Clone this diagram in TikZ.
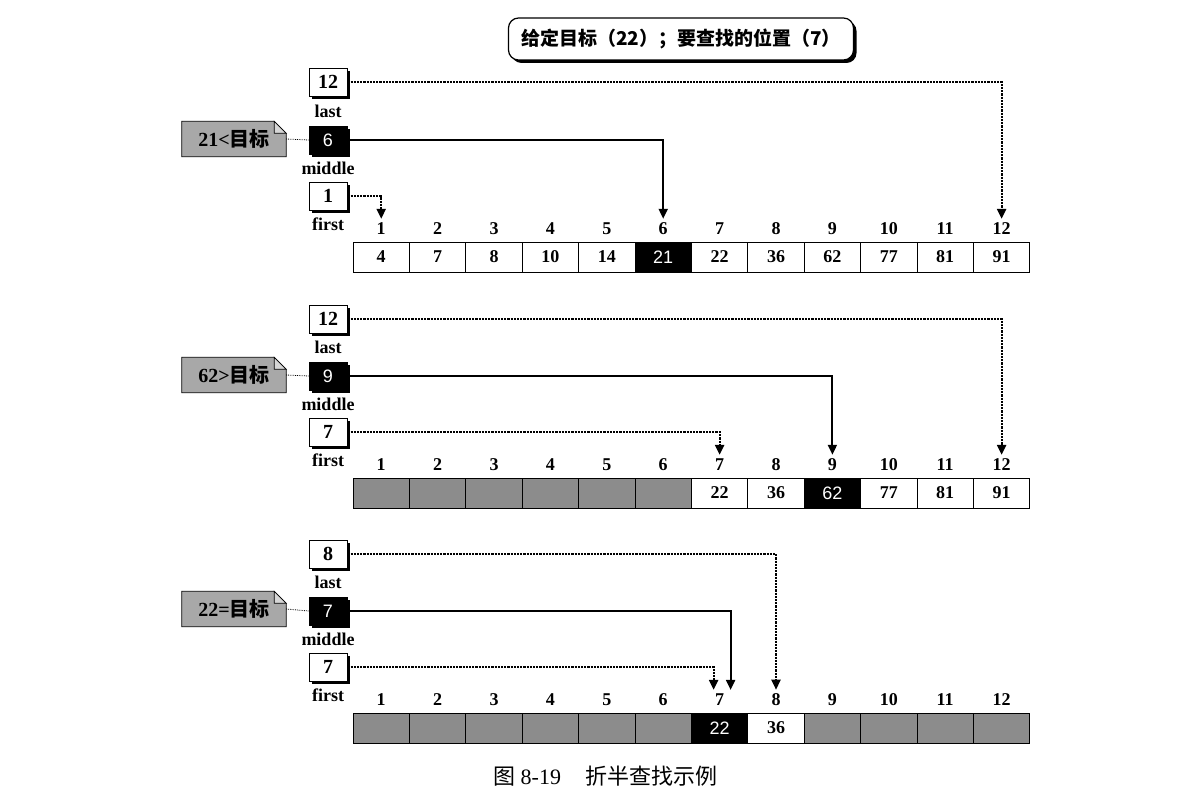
\documentclass[tikz,border=0pt]{standalone}
\usepackage{fontspec}
\setmainfont{Liberation Serif}
\newfontfamily\cjk{Noto Sans CJK SC}
\newfontfamily\sansf{Liberation Sans}
\usetikzlibrary{arrows.meta,shadows,backgrounds}
\definecolor{cellgray}{gray}{0.55}
\definecolor{notegray}{gray}{0.66}
\definecolor{notelight}{gray}{0.84}
\newcommand\cellfnt{\fontsize{18}{18}\selectfont\bfseries}
\newcommand\idxfnt{\fontsize{18}{18}\selectfont\bfseries}
\newcommand\hitfnt{\fontsize{18}{18}\selectfont\sansf}
\newcommand\ptrfnt{\fontsize{20}{20}\selectfont\bfseries}
\tikzset{
  cell/.style={draw,thick,minimum width=56.4pt,minimum height=30pt,inner sep=0pt,font=\cellfnt},
  emptycell/.style={cell,fill=cellgray},
  hitcell/.style={cell,fill=black,text=white,font=\hitfnt},
  idx/.style={inner sep=0pt,font=\idxfnt},
  ptr/.style={draw,thick,fill=white,minimum width=38pt,minimum height=28pt,inner sep=0pt,font=\ptrfnt,
    drop shadow={shadow xshift=3pt,shadow yshift=-3pt,opacity=1,fill=black}},
  midptr/.style={ptr,fill=black,text=white,font=\hitfnt},
  ptrname/.style={inner sep=0pt,font=\fontsize{18}{18}\selectfont\bfseries},
  note/.style={inner sep=0pt,minimum width=104pt,minimum height=35pt,font=\ptrfnt},
  notefold/.style={thick,fill=notelight},
  dotarrow/.style={densely dotted,line width=2.2pt,-{Triangle[length=10pt,width=9pt]}},
  solidarrow/.style={line width=2pt,-{Triangle[length=10pt,width=9pt]}},
  goalbox/.style={draw,very thick,rounded corners=10pt,fill=white,minimum width=345pt,minimum height=42pt,
    font=\fontsize{19}{19}\selectfont\cjk\bfseries,
    drop shadow={shadow xshift=3pt,shadow yshift=-3pt,opacity=1,fill=black}}
}
\begin{document}
\begin{tikzpicture}[x=1pt,y=-1pt]
  \useasboundingbox (0,0) rectangle (1194,808);
  \node[goalbox] (goal) at (681,39) {给定目标（22）；要查找的位置（7）};

  % first round
  \foreach \v/\s [count=\i] in {4/cell,7/cell,8/cell,10/cell,14/cell,21/hitcell,22/cell,36/cell,62/cell,77/cell,81/cell,91/cell}{
    \node[\s] (c1-\i) at ({353+(\i-0.5)*56.4},257) {\v};
    \node[idx] (i1-\i) at ({353+(\i-0.5)*56.4},229) {\i};
  }
  \node[ptr] (l1) at (328,82) {12};
  \node[ptrname] (ln1) at (328,111) {last};
  \node[midptr] (m1) at (328,140) {6};
  \node[ptrname] (mn1) at (328,168) {middle};
  \node[ptr] (f1) at (328,196) {1};
  \node[ptrname] (fn1) at (328,224) {first};
  \node[note] (n1) at (234,139) {21<{\cjk\bfseries 目标}};
  \begin{scope}[on background layer]
    \draw[thick,fill=notegray] (n1.south west) -- (n1.north west) -- ([xshift=-12pt]n1.north east)
      -- ([yshift=-12pt]n1.north east) -- (n1.south east) -- cycle;
  \end{scope}
  \draw[notefold] ([xshift=-12pt]n1.north east) -- ([xshift=-12pt,yshift=-12pt]n1.north east) -- ([yshift=-12pt]n1.north east) -- cycle;
  \draw[densely dotted,thick] (n1.east) -- (m1.west);
  \draw[dotarrow] (l1.east) -| ([yshift=4pt]i1-12.north);
  \draw[solidarrow] (m1.east) -| ([yshift=4pt]i1-6.north);
  \draw[dotarrow] (f1.east) -| ([yshift=4pt]i1-1.north);

  % second round
  \foreach \v/\s [count=\i] in {{}/emptycell,{}/emptycell,{}/emptycell,{}/emptycell,{}/emptycell,{}/emptycell,22/cell,36/cell,62/hitcell,77/cell,81/cell,91/cell}{
    \node[\s] (c2-\i) at ({353+(\i-0.5)*56.4},493) {\v};
    \node[idx] (i2-\i) at ({353+(\i-0.5)*56.4},465) {\i};
  }
  \node[ptr] (l2) at (328,319) {12};
  \node[ptrname] (ln2) at (328,347) {last};
  \node[midptr] (m2) at (328,376) {9};
  \node[ptrname] (mn2) at (328,404) {middle};
  \node[ptr] (f2) at (328,432) {7};
  \node[ptrname] (fn2) at (328,460) {first};
  \node[note] (n2) at (234,375) {62>{\cjk\bfseries 目标}};
  \begin{scope}[on background layer]
    \draw[thick,fill=notegray] (n2.south west) -- (n2.north west) -- ([xshift=-12pt]n2.north east)
      -- ([yshift=-12pt]n2.north east) -- (n2.south east) -- cycle;
  \end{scope}
  \draw[notefold] ([xshift=-12pt]n2.north east) -- ([xshift=-12pt,yshift=-12pt]n2.north east) -- ([yshift=-12pt]n2.north east) -- cycle;
  \draw[densely dotted,thick] (n2.east) -- (m2.west);
  \draw[dotarrow] (l2.east) -| ([yshift=4pt]i2-12.north);
  \draw[solidarrow] (m2.east) -| ([yshift=4pt]i2-9.north);
  \draw[dotarrow] (f2.east) -| ([yshift=4pt]i2-7.north);

  % third round
  \foreach \v/\s [count=\i] in {{}/emptycell,{}/emptycell,{}/emptycell,{}/emptycell,{}/emptycell,{}/emptycell,22/hitcell,36/cell,{}/emptycell,{}/emptycell,{}/emptycell,{}/emptycell}{
    \node[\s] (c3-\i) at ({353+(\i-0.5)*56.4},728) {\v};
    \node[idx] (i3-\i) at ({353+(\i-0.5)*56.4},700) {\i};
  }
  \node[ptr] (l3) at (328,554) {8};
  \node[ptrname] (ln3) at (328,582) {last};
  \node[midptr] (m3) at (328,611) {7};
  \node[ptrname] (mn3) at (328,639) {middle};
  \node[ptr] (f3) at (328,667) {7};
  \node[ptrname] (fn3) at (328,695) {first};
  \node[note] (n3) at (234,609) {22={\cjk\bfseries 目标}};
  \begin{scope}[on background layer]
    \draw[thick,fill=notegray] (n3.south west) -- (n3.north west) -- ([xshift=-12pt]n3.north east)
      -- ([yshift=-12pt]n3.north east) -- (n3.south east) -- cycle;
  \end{scope}
  \draw[notefold] ([xshift=-12pt]n3.north east) -- ([xshift=-12pt,yshift=-12pt]n3.north east) -- ([yshift=-12pt]n3.north east) -- cycle;
  \draw[densely dotted,thick] (n3.east) -- (m3.west);
  \draw[dotarrow] (l3.east) -| ([yshift=4pt]i3-8.north);
  \draw[solidarrow] (m3.east) -| ([xshift=11pt,yshift=4pt]i3-7.north);
  \draw[dotarrow] (f3.east) -| ([xshift=-6pt,yshift=4pt]i3-7.north);

  \node[anchor=west,inner sep=0pt,font=\fontsize{22}{22}\selectfont] (cap) at (493,776) {{\cjk 图}~8-19\hspace{24pt}{\cjk 折半查找示例}};
\end{tikzpicture}
\end{document}
